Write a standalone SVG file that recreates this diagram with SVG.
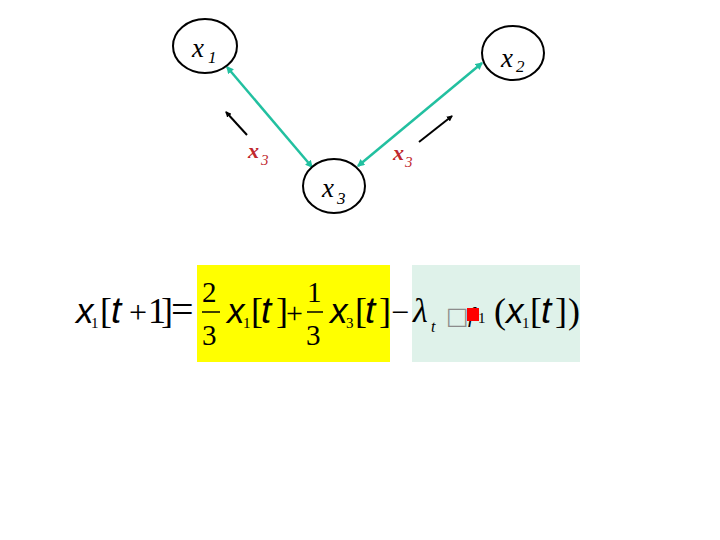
<svg xmlns="http://www.w3.org/2000/svg" width="720" height="540" viewBox="0 0 720 540">
<defs>
<style>
.node{fill:#fff;stroke:#000;stroke-width:2}
.lab{font-family:"Liberation Serif",serif;font-style:italic;fill:#000}
.red{font-family:"Liberation Serif",serif;font-style:italic;fill:#c0272d}
.edge{stroke:#22c0a0;stroke-width:2.5;fill:none}
.blk{stroke:#000;stroke-width:2;fill:none}
.s{font-family:"Liberation Serif",serif;fill:#000}
.v{font-family:"Liberation Sans",sans-serif;font-style:italic;fill:#000}
.i{font-family:"Liberation Serif",serif;font-style:italic;fill:#000}
.b{font-size:36px}
.sub{font-size:15px}
</style>
<marker id="ta" viewBox="0 0 6 6" refX="5" refY="3" markerWidth="3" markerHeight="3" orient="auto-start-reverse"><path d="M0,0 L6,3 L0,6 z" fill="#22c0a0"/></marker>
<marker id="ba" viewBox="0 0 6 6" refX="5" refY="3" markerWidth="3" markerHeight="3" orient="auto"><path d="M0,0 L6,3 L0,6 z" fill="#000"/></marker>
</defs>
<rect width="720" height="540" fill="#fff"/>

<g id="connectors">
<line class="edge" x1="312" y1="167" x2="227" y2="67" marker-start="url(#ta)" marker-end="url(#ta)"/>
<line class="edge" x1="358" y1="166" x2="482" y2="63" marker-start="url(#ta)" marker-end="url(#ta)"/>
<line class="blk" x1="247" y1="135" x2="226" y2="112" marker-end="url(#ba)"/>
<line class="blk" x1="419" y1="142" x2="452" y2="116" marker-end="url(#ba)"/>
<text class="red" x="248" y="158" font-size="22" font-weight="bold">x</text>
<text class="red" x="261" y="165" font-size="15">3</text>
<text class="red" x="393" y="160" font-size="22" font-weight="bold">x</text>
<text class="red" x="405" y="167" font-size="15">3</text>
</g>

<g id="node-x1">
<ellipse class="node" cx="205" cy="46" rx="32" ry="27"/>
<text class="lab" x="192" y="57" font-size="27">x</text>
<text class="lab" x="208" y="63" font-size="17">1</text>
</g>
<g id="node-x2">
<ellipse class="node" cx="513" cy="53" rx="31" ry="27"/>
<text class="lab" x="501" y="67" font-size="27">x</text>
<text class="lab" x="516" y="72" font-size="17">2</text>
</g>
<g id="node-x3">
<ellipse class="node" cx="334" cy="186" rx="31" ry="27"/>
<text class="lab" x="322" y="197" font-size="27">x</text>
<text class="lab" x="337" y="204" font-size="17">3</text>
</g>

<g id="equation">
<rect x="197" y="265" width="193" height="97" fill="#ffff00"/>
<rect x="412" y="265" width="168" height="97" fill="#dff2ea"/>
<text class="v" x="76" y="323" font-size="35">x</text>
<text class="s sub" x="91" y="328">1</text>
<text class="s b" x="100" y="323">[</text>
<text class="v" x="111" y="323" font-size="37">t</text>
<text class="s" x="129" y="323" font-size="32">+</text>
<text class="s b" x="148" y="323">1</text>
<text class="s b" x="161" y="323">]</text>
<text class="s" x="171" y="323" font-size="40">=</text>

<text class="s" x="202" y="302" font-size="29">2</text>
<line x1="202" y1="312" x2="220" y2="312" stroke="#000" stroke-width="1.5"/>
<text class="s" x="202" y="345" font-size="29">3</text>
<text class="v" x="227" y="323" font-size="35">x</text>
<text class="s sub" x="243" y="328">1</text>
<text class="s b" x="251" y="323">[</text>
<text class="v" x="261" y="323" font-size="37">t</text>
<text class="s b" x="276" y="323">]</text>
<text class="s" x="286" y="323" font-size="30">+</text>
<text class="s" x="307" y="302" font-size="29">1</text>
<line x1="307" y1="312" x2="323" y2="312" stroke="#000" stroke-width="1.5"/>
<text class="s" x="306" y="345" font-size="29">3</text>
<text class="v" x="330" y="323" font-size="35">x</text>
<text class="s sub" x="346" y="328">3</text>
<text class="s b" x="355" y="323">[</text>
<text class="v" x="365" y="323" font-size="37">t</text>
<text class="s b" x="379" y="323">]</text>

<text class="s" x="391" y="323" font-size="32">−</text>
<text class="i" x="413" y="322" font-size="34">λ</text>
<text class="i" x="431" y="332" font-size="16">t</text>
<text x="446" y="324" font-size="24" font-family="DejaVu Sans,sans-serif" fill="#8c8c8c">□</text>
<text class="i" x="468" y="322" font-size="22">f</text>
<rect x="467" y="308" width="12" height="13" fill="#ff0000"/>
<text class="s sub" x="478" y="323">1</text>
<text class="s b" x="494" y="323">(</text>
<text class="v" x="506" y="323" font-size="35">x</text>
<text class="s sub" x="522" y="328">1</text>
<text class="s b" x="530" y="323">[</text>
<text class="v" x="541" y="323" font-size="37">t</text>
<text class="s b" x="555" y="323">]</text>
<text class="s b" x="568" y="323">)</text>
</g>
</svg>
